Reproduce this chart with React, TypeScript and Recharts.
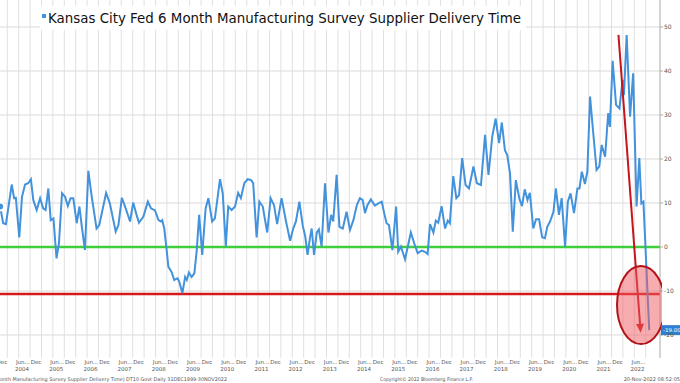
import React from "react";
import { ComposedChart, Line, XAxis, YAxis, ReferenceLine, ReferenceDot } from "recharts";

// decimal-year time stamps of the series vertices
const time = [
  2003.81, 2003.9, 2003.98, 2004.15, 2004.22, 2004.27, 2004.37, 2004.45, 2004.54, 2004.63,
  2004.71, 2004.78, 2004.88, 2004.98, 2005.07, 2005.14, 2005.22, 2005.29, 2005.37, 2005.46,
  2005.53, 2005.62, 2005.71, 2005.79, 2005.87, 2005.95, 2006.05, 2006.13, 2006.2, 2006.29,
  2006.39, 2006.49, 2006.63, 2006.71, 2006.91, 2007.02, 2007.19, 2007.27, 2007.37, 2007.49,
  2007.61, 2007.7, 2007.8, 2007.87, 2008.0, 2008.13, 2008.22, 2008.34, 2008.44, 2008.51,
  2008.55, 2008.61, 2008.68, 2008.73, 2008.83, 2008.9, 2009.0, 2009.05, 2009.14, 2009.22,
  2009.27, 2009.33, 2009.41, 2009.49, 2009.56, 2009.63, 2009.72, 2009.82, 2009.9, 2010.01,
  2010.09, 2010.24, 2010.32, 2010.41, 2010.48, 2010.58, 2010.68, 2010.77, 2010.85, 2010.95,
  2011.05, 2011.15, 2011.21, 2011.31, 2011.39, 2011.49, 2011.62, 2011.72, 2011.82, 2011.91,
  2012.04, 2012.17, 2012.29, 2012.38, 2012.46, 2012.56, 2012.66, 2012.73, 2012.8, 2012.87,
  2012.92, 2012.99, 2013.07, 2013.13, 2013.21, 2013.31, 2013.41, 2013.49, 2013.55, 2013.65,
  2013.73, 2013.83, 2013.94, 2014.04, 2014.14, 2014.24, 2014.33, 2014.41, 2014.48, 2014.55,
  2014.65, 2014.77, 2014.87, 2014.97, 2015.04, 2015.11, 2015.18, 2015.28, 2015.39, 2015.45,
  2015.53, 2015.65, 2015.82, 2015.92, 2016.02, 2016.14, 2016.23, 2016.31, 2016.38, 2016.48,
  2016.55, 2016.62, 2016.72, 2016.82, 2016.9, 2016.96, 2017.06, 2017.15, 2017.23, 2017.32,
  2017.42, 2017.52, 2017.65, 2017.75, 2017.87, 2017.99, 2018.09, 2018.2, 2018.3, 2018.4,
  2018.48, 2018.57, 2018.64, 2018.72, 2018.8, 2018.89, 2018.99, 2019.07, 2019.15, 2019.23,
  2019.3, 2019.4, 2019.48, 2019.57, 2019.66, 2019.74, 2019.81, 2019.89, 2019.99, 2020.06,
  2020.15, 2020.23, 2020.33, 2020.41, 2020.49, 2020.59, 2020.69, 2020.75, 2020.82, 2020.91,
  2020.98, 2021.06, 2021.15, 2021.25, 2021.33, 2021.4, 2021.5, 2021.59, 2021.64, 2021.72,
  2021.82, 2021.92, 2022.01, 2022.05, 2022.13, 2022.23, 2022.32, 2022.42, 2022.5, 2022.56,
  2022.62, 2022.79,
];

// supplier delivery time index values
const values = [
  9.2, 5.4, 5.2, 14.2, 11.1, 11.2, 2.2, 11.4, 14.2, 14.5,
  15.4, 10.7, 8.4, 11.1, 8.8, 8.4, 13.3, 6.1, 6.5, -2.6,
  0.8, 12.2, 11.4, 9.3, 11.1, 11.1, 5.4, 9.2, 4.6, -0.7,
  17.3, 11.4, 4.2, 5.0, 12.3, 9.9, 3.5, 5.0, 11.2, 8.6,
  5.8, 10.1, 7.3, 5.5, 6.9, 10.3, 8.8, 8.3, 6.1, 5.8,
  6.1, 4.2, -0.7, -4.5, -5.8, -7.5, -7.1, -7.9, -10.5, -6.8,
  -7.5, -5.8, -6.8, -6.0, -0.7, 7.3, -1.8, 8.8, 11.1, 5.8,
  6.5, 15.4, 12.2, 0.1, 9.2, 8.4, 9.2, 12.3, 11.1, 14.5,
  15.4, 15.2, 14.5, 2.2, 10.3, 9.2, 3.3, 11.1, 9.5, 5.2,
  11.1, 5.8, 1.4, 4.2, 5.8, 10.3, 4.8, 2.5, -1.8, 2.0,
  4.2, -1.8, 3.3, 4.0, 0.1, 14.5, 3.3, 7.3, 5.8, 16.4,
  4.6, 4.2, 8.0, 3.9, 6.1, 9.5, 11.1, 10.7, 7.7, 9.5,
  10.8, 9.4, 9.9, 10.3, 7.7, 5.4, 5.0, -0.7, 9.2, -1.1,
  0.1, -2.8, 3.3, 0.8, -1.4, -0.8, -1.1, -1.6, 5.2, 3.3,
  6.0, 5.5, 9.3, 4.2, 6.0, 5.4, 16.1, 11.1, 11.8, 20.2,
  14.1, 13.3, 18.3, 14.5, 14.1, 25.5, 16.4, 25.1, 29.2, 23.6,
  28.3, 22.0, 20.9, 16.7, 3.5, 15.2, 11.1, 9.3, 13.1, 10.7,
  12.3, 4.2, 6.3, 6.3, 2.2, 2.0, 4.6, 5.8, 8.0, 13.3,
  7.3, 11.1, 0.1, 10.3, 12.2, 7.7, 13.3, 13.3, 17.1, 14.3,
  17.1, 34.2, 26.2, 17.5, 18.3, 23.2, 20.5, 30.4, 27.3, 42.3,
  32.3, 31.5, 38.0, 34.5, 48.2, 29.6, 39.5, 9.2, 20.2, 9.9,
  10.3, -18.9,
];

const junYears = [2004, 2005, 2006, 2007, 2008, 2009, 2010, 2011, 2012, 2013, 2014, 2015, 2016, 2017, 2018, 2019, 2020, 2021, 2022];
const decYears = [2003, 2004, 2005, 2006, 2007, 2008, 2009, 2010, 2011, 2012, 2013, 2014, 2015, 2016, 2017, 2018, 2019, 2020, 2021];
const yTicks = [-20, -10, 0, 10, 20, 30, 40, 50];
const gridYears = [2004, 2005, 2006, 2007, 2008, 2009, 2010, 2011, 2012, 2013, 2014, 2015, 2016, 2017, 2018, 2019, 2020, 2021, 2022];
const gridMonthOffsets = [0.02, 0.353, 0.687];

const zeroLevel = 0;
const supportLevel = -10.7;
const arrowFrom = { t: 2021.89, v: 48.2 };
const arrowTo = { t: 2022.54, v: -19.5 };
const circleCenter = { t: 2022.55, v: -13.2 };
const lastLabel = "-19.00";
const title = "Kansas City Fed 6 Month Manufacturing Survey Supplier Delivery Time";
const footerLeft = "City Fed 6 Month Manufacturing Survey Supplier Delivery Time) DT10  Govt  Daily 31DEC1999-30NOV2022";
const footerCenter = "Copyright\u00A9 2022 Bloomberg Finance L.P.";
const footerRight = "20-Nov-2022 08:52:05";

const X_MIN = 2003.807;
const X_MAX = 2023.105;
const Y_MIN = -25.23;
const Y_MAX = 56.14;

const data = time.map((t, i) => ({ t, v: values[i] }));
const junTicks = junYears.map((y) => y + 0.45);
const decTicks = decYears.map((y) => y + 0.95);
const vGrid = gridYears.flatMap((y) => gridMonthOffsets.map((o) => y + o)).filter((g) => g < X_MAX);

const FONT = "'DejaVu Sans', Verdana, sans-serif";

const XTick = (props: any) => {
  const { x, y, payload } = props;
  const val: number = payload.value;
  const frac = val - Math.floor(val);
  if (frac < 0.7) {
    const year = Math.round(val - 0.45);
    return (
      <g>
        <text x={x - 6} y={y + 6} fontSize={5.5} fill="#555" fontFamily={FONT} textAnchor="start">
          Jun...
        </text>
        <text x={x} y={y + 13} fontSize={5.5} fill="#555" fontFamily={FONT} textAnchor="middle">
          {year}
        </text>
      </g>
    );
  }
  return (
    <text x={x - 3} y={y + 6} fontSize={5.5} fill="#555" fontFamily={FONT} textAnchor="middle">
      Dec
    </text>
  );
};

const ArrowShape = (p: any) => {
  const { x1, y1, x2, y2 } = p;
  const dx = x2 - x1;
  const dy = y2 - y1;
  const len = Math.sqrt(dx * dx + dy * dy);
  const ux = dx / len;
  const uy = dy / len;
  const hl = 9;
  const hw = 4;
  const bx = x2 - ux * hl;
  const by = y2 - uy * hl;
  const pts = `${x2},${y2} ${bx - uy * hw},${by + ux * hw} ${bx + uy * hw},${by - ux * hw}`;
  return (
    <g>
      <line x1={x1} y1={y1} x2={bx} y2={by} stroke="#c4161c" strokeWidth={2} />
      <polygon points={pts} fill="#d0161c" />
    </g>
  );
};

const EllipseShape = (p: any) => {
  const { cx, cy } = p;
  return (
    <g>
      <defs>
        <clipPath id="ellClip">
          <rect x={cx - 60} y={cy - 60} width={60 + 21} height={120} />
        </clipPath>
      </defs>
      <ellipse
        cx={cx}
        cy={cy}
        rx={24}
        ry={39}
        fill="rgba(240,90,95,0.5)"
        stroke="#b3121a"
        strokeWidth={2}
        clipPath="url(#ellClip)"
      />
    </g>
  );
};

const LastValueShape = (p: any) => {
  const { cx, cy } = p;
  return (
    <g>
      <rect x={cx + 1} y={cy - 5} width={20} height={10} fill="#2f7fd0" />
      <text x={cx + 3} y={cy + 2} fontSize={5.5} fill="#fff" fontFamily={FONT}>
        {lastLabel}
      </text>
    </g>
  );
};

export default function App() {
  return (
    <div style={{ position: "absolute", left: 0, top: 0, width: 680, height: 383, background: "#fff", overflow: "hidden" }}>
      <ComposedChart width={680} height={383} data={data} margin={{ top: 0, right: 0, left: 0, bottom: 0 }}>
        <XAxis
          dataKey="t"
          type="number"
          domain={[X_MIN, X_MAX]}
          allowDataOverflow
          ticks={[...decTicks, ...junTicks].sort((a, b) => a - b)}
          interval={0}
          tick={<XTick />}
          axisLine={false}
          tickLine={false}
          tickSize={0}
          height={25}
          tickMargin={0}
        />
        <YAxis
          orientation="right"
          type="number"
          domain={[Y_MIN, Y_MAX]}
          allowDataOverflow
          ticks={yTicks}
          interval={0}
          width={20}
          axisLine={{ stroke: "#aaa" }}
          tickLine={{ stroke: "#aaa" }}
          tickSize={3}
          tickMargin={1}
          tick={{ fontSize: 6, fill: "#555", fontFamily: FONT }}
        />
        {vGrid.map((g) => (
          <ReferenceLine key={`vg${g}`} x={g} stroke="#e1e1e1" strokeWidth={1} />
        ))}
        {yTicks.map((g) => (
          <ReferenceLine key={`hg${g}`} y={g} stroke="#dadada" strokeWidth={1} />
        ))}
        <ReferenceLine y={zeroLevel} stroke="#3fcf3a" strokeWidth={2.5} />
        <ReferenceLine y={supportLevel} stroke="#d7191c" strokeWidth={2.5} />
        <Line
          type="linear"
          dataKey="v"
          stroke="#4392dc"
          strokeWidth={2}
          dot={false}
          isAnimationActive={false}
        />
        <ReferenceDot
          x={circleCenter.t}
          y={circleCenter.v}
          r={1}
          ifOverflow="visible"
          shape={<EllipseShape />}
        />
        <ReferenceLine
          segment={[
            { x: arrowFrom.t, y: arrowFrom.v },
            { x: arrowTo.t, y: arrowTo.v },
          ]}
          ifOverflow="visible"
          shape={<ArrowShape />}
        />
        <ReferenceDot
          x={X_MAX}
          y={values[values.length - 1]}
          r={1}
          ifOverflow="visible"
          shape={<LastValueShape />}
        />
      </ComposedChart>
      <svg width={680} height={383} style={{ position: "absolute", left: 0, top: 0, pointerEvents: "none" }}>
        <rect x={40} y={6} width={486} height={24} fill="#fff" />
        <rect x={42} y={14} width={4} height={4} fill="#4392dc" />
        <text x={48} y={23} fontSize={13.5} fill="#111" fontFamily={FONT} textLength={473} lengthAdjust="spacingAndGlyphs">
          {title}
        </text>
        <text x={-30} y={381} fontSize={5} fill="#555" fontFamily={FONT} textLength={257} lengthAdjust="spacingAndGlyphs">
          {footerLeft}
        </text>
        <text x={380} y={381} fontSize={5} fill="#555" fontFamily={FONT} textLength={93} lengthAdjust="spacingAndGlyphs">
          {footerCenter}
        </text>
        <text x={680} y={381} fontSize={5} fill="#555" fontFamily={FONT} textAnchor="end">
          {footerRight}
        </text>
      </svg>
    </div>
  );
}
